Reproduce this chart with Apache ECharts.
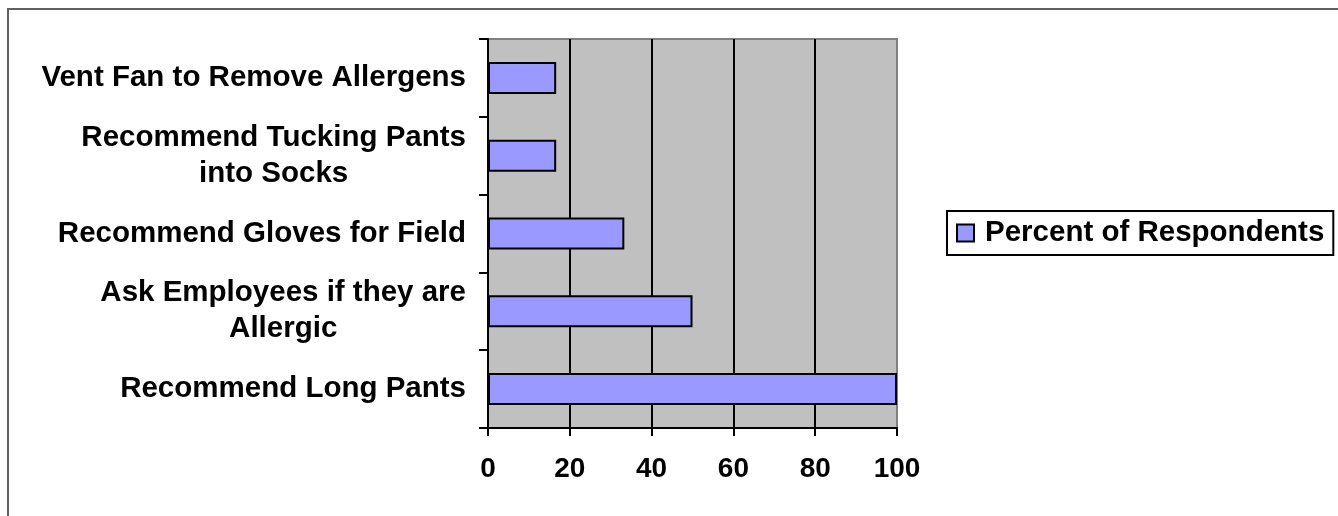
<!DOCTYPE html>
<html>
<head>
<meta charset="utf-8">
<title>Percent of Respondents</title>
<script src="https://cdn.jsdelivr.net/npm/echarts@6/dist/echarts.min.js"></script>
<style>
  html, body { margin: 0; padding: 0; background: #fff; }
  #chart { width: 1338px; height: 516px; }
</style>
</head>
<body>
<div id="chart"></div>
<script>
// categories listed bottom -> top (echarts category y axis starts at the bottom)
const categories = [
  'Recommend Long Pants',
  'Ask Employees if they are\nAllergic',
  'Recommend Gloves for Field',
  'Recommend Tucking Pants\ninto Socks',
  'Vent Fan to Remove Allergens'
]
const percentValues = [100, 50, 33.33, 16.67, 16.67]
const seriesName = 'Percent of Respondents'
const xMin = 0
const xMax = 100
const xStep = 20

const FONT = '"Liberation Sans", Arial, sans-serif'
const labelFont = { fontFamily: FONT, fontSize: 29.5, fontWeight: 'bold', color: '#000' }

const chart = echarts.init(document.getElementById('chart'), null, { renderer: 'canvas' })

chart.setOption({
  animation: false,
  backgroundColor: '#fff',
  graphic: [
    {
      // frame around the chart area (only top/left edges are visible)
      type: 'rect',
      shape: { x: 8, y: 9, width: 1400, height: 600 },
      style: { fill: 'none', stroke: '#606060', lineWidth: 2 },
      silent: true
    }
  ],
  grid: {
    left: 488,
    top: 39,
    width: 409,
    height: 389,
    show: true,
    backgroundColor: '#c0c0c0',
    borderColor: '#808080',
    borderWidth: 2
  },
  legend: {
    data: [seriesName],
    left: 947,
    top: 211,
    padding: [7, 9, 7, 9],
    backgroundColor: '#fff',
    borderColor: '#000',
    borderWidth: 2,
    borderRadius: 0,
    icon: 'rect',
    itemWidth: 17,
    itemHeight: 17,
    itemStyle: { borderColor: '#000', borderWidth: 2 },
    textStyle: { ...labelFont, padding: [0, 0, 0, 6] }
  },
  xAxis: {
    type: 'value',
    min: xMin,
    max: xMax,
    interval: xStep,
    axisLine: { show: true, lineStyle: { color: '#000', width: 2 } },
    axisTick: { show: true, length: 8, lineStyle: { color: '#000', width: 2 } },
    axisLabel: { ...labelFont, fontSize: 28, margin: 27 },
    splitLine: {
      show: true,
      showMinLine: false,
      showMaxLine: false,
      lineStyle: { color: '#000', width: 2 }
    }
  },
  yAxis: {
    type: 'category',
    data: categories,
    axisLine: { show: true, lineStyle: { color: '#000', width: 2 } },
    axisTick: { show: true, length: 9, lineStyle: { color: '#000', width: 2 } },
    axisLabel: {
      margin: 22,
      formatter: (v) => v.split('\n').map((s) => '{c|' + s + '}').join('\n'),
      rich: {
        c: { ...labelFont, align: 'center', lineHeight: 36 }
      }
    },
    splitLine: { show: false }
  },
  series: [
    {
      name: seriesName,
      type: 'bar',
      data: percentValues,
      barWidth: 32,
      itemStyle: {
        color: '#9999ff',
        borderColor: '#000',
        borderWidth: 2
      }
    }
  ]
})
</script>
</body>
</html>
